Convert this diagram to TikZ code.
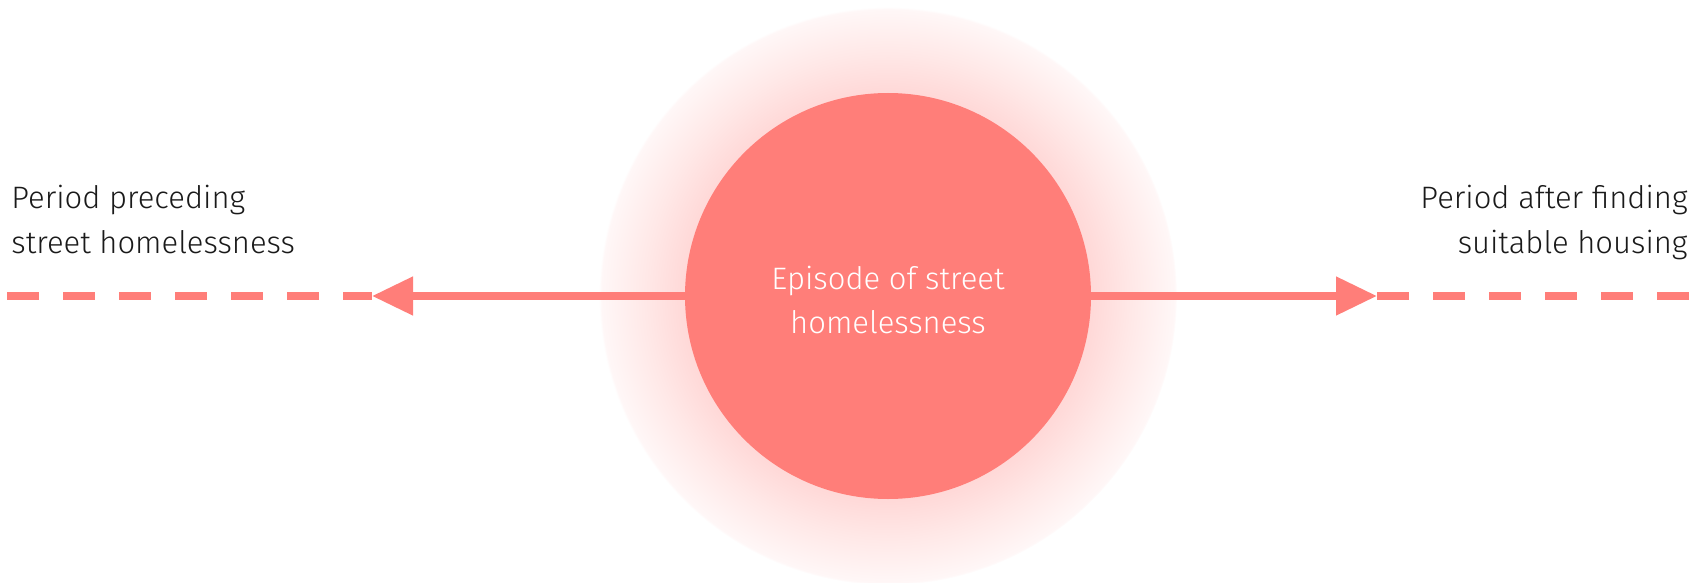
\documentclass[tikz,border=0pt]{standalone}
\usepackage{fontspec}
\IfFontExistsTF{Fira Sans Light}{\setmainfont{Fira Sans Light}}{\setmainfont{Fira Sans}}
\usetikzlibrary{arrows.meta}
\definecolor{salmon}{HTML}{FF7E79}
\definecolor{glowA}{HTML}{FFD8D7}
\definecolor{glowB}{HTML}{FFE8E7}
\definecolor{glowC}{HTML}{FFF7F7}
\definecolor{ink}{HTML}{1A1A1A}
\pgfdeclareradialshading{softglow}{\pgfpoint{0bp}{0bp}}{color(0bp)=(glowA); color(17.5bp)=(glowA); color(21bp)=(glowB); color(24.8bp)=(glowC); color(25bp)=(white); color(50bp)=(white)}
\begin{document}
\begin{tikzpicture}[x=0.5pt,y=-0.5pt,
  conn/.style={draw=salmon, line width=3.9pt},
  lbl/.style={inner sep=0pt, text=ink, font=\fontsize{15.5}{22.5}\selectfont},
  bubble/.style={circle, fill=salmon, minimum size=203pt, inner sep=0pt},
  bubbletext/.style={inner sep=0pt, text=white, align=center, font=\fontsize{15.5}{22}\selectfont},
  tip/.style={-{Triangle[length=20.5pt,width=18.5pt]}},
  dashline/.style={conn, dash pattern=on 16pt off 12pt}]
\useasboundingbox (0,0) rectangle (1696,583);
\shade[shading=softglow] (888,296) circle[radius=289];
\node[bubble] (ep) at (888,296) {};
\node[bubbletext] (eptext) at (888,300) {Episode of street\\homelessness};
\coordinate (ltip) at (372,296);
\coordinate (lend) at (7,296);
\coordinate (rtip) at (1377,296);
\coordinate (rend) at (1689,296);
\draw[conn, tip] (ep.west) -- (ltip);
\draw[conn, tip] (ep.east) -- (rtip);
\draw[dashline] (lend) -- (ltip);
\draw[dashline] (rtip) -- (rend);
\node[lbl, anchor=base west, align=left] (pre) at (11,253) {Period preceding\\street homelessness};
\node[lbl, anchor=base east, align=right] (post) at (1688,253) {Period after finding\\suitable housing};
\end{tikzpicture}
\end{document}
